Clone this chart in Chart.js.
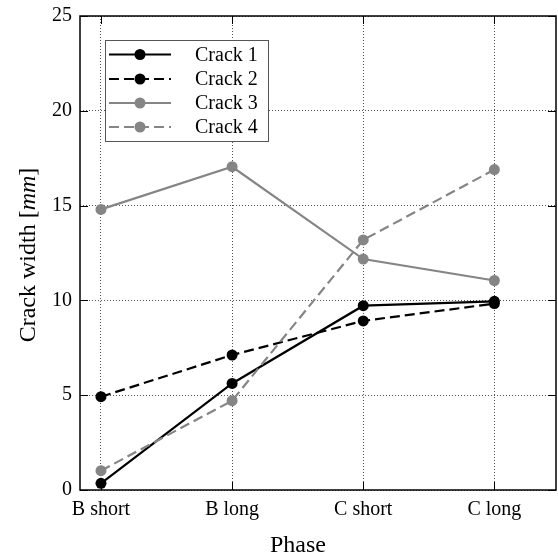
<!DOCTYPE html>
<html>
<head>
<meta charset="utf-8">
<script src="https://cdn.jsdelivr.net/npm/chart.js@4/dist/chart.umd.min.js"></script>
<style>
  html, body { margin: 0; padding: 0; background: #fff; }
  #wrap { width: 558px; height: 559px; }
</style>
</head>
<body>
<div id="wrap"><canvas id="c" width="558" height="559"></canvas></div>
<script>
// Crack widths measured at each loading phase
const phases = ['B short', 'B long', 'C short', 'C long'];
const crack1 = [0.35, 5.62, 9.72, 9.95];
const crack2 = [4.92, 7.12, 8.92, 9.83];
const crack3 = [14.8, 17.05, 12.18, 11.05];
const crack4 = [1.02, 4.71, 13.19, 16.9];
const seriesNames = ['Crack 1', 'Crack 2', 'Crack 3', 'Crack 4'];
const yTicks = [0, 5, 10, 15, 20, 25];

const FONT = '"Liberation Serif", "Times New Roman", serif';
const BLACK = '#000000';
const GREY = '#858585';
const DASH = [10, 5];

const toPoints = arr => arr.map((v, i) => ({ x: i, y: v }));

function series(label, values, color, dashed, order) {
  return {
    label,
    data: toPoints(values),
    borderColor: color,
    backgroundColor: color,
    borderWidth: 2.2,
    borderDash: dashed ? DASH : [],
    pointRadius: 5.5,
    pointBorderWidth: 0,
    pointBackgroundColor: color,
    pointHoverRadius: 5.5,
    tension: 0,
    fill: false,
    order
  };
}

// Frame on top/right, inward tick marks, y title with italic unit, legend box
const decorations = {
  id: 'decorations',
  afterDatasetsDraw(chart) {
    const { ctx, chartArea: a, scales } = chart;
    const TL = 8;
    ctx.save();
    ctx.strokeStyle = '#000';
    ctx.lineWidth = 1.5;
    ctx.setLineDash([]);
    ctx.strokeRect(a.left, a.top, a.right - a.left, a.bottom - a.top);
    ctx.lineWidth = 1;
    ctx.beginPath();
    scales.y.ticks.forEach(t => {
      const y = Math.round(scales.y.getPixelForValue(t.value)) + 0.5;
      ctx.moveTo(a.left, y); ctx.lineTo(a.left + TL, y);
      ctx.moveTo(a.right, y); ctx.lineTo(a.right - TL, y);
    });
    scales.x.ticks.forEach(t => {
      const x = Math.round(scales.x.getPixelForValue(t.value)) + 0.5;
      ctx.moveTo(x, a.bottom); ctx.lineTo(x, a.bottom - TL);
      ctx.moveTo(x, a.top); ctx.lineTo(x, a.top + TL);
    });
    ctx.stroke();
    ctx.restore();
  },
  afterDraw(chart) {
    const { ctx } = chart;
    ctx.save();

    // y axis title: "Crack width [mm]" with the unit in italics
    const parts = [
      { t: 'Crack width [', f: '24px ' + FONT },
      { t: 'mm', f: 'italic 24px ' + FONT },
      { t: ']', f: '24px ' + FONT }
    ];
    let total = 0;
    parts.forEach(p => { ctx.font = p.f; p.w = ctx.measureText(p.t).width; total += p.w; });
    ctx.translate(35, 255);
    ctx.rotate(-Math.PI / 2);
    ctx.fillStyle = '#000';
    ctx.textBaseline = 'alphabetic';
    ctx.textAlign = 'left';
    let x = -total / 2;
    parts.forEach(p => { ctx.font = p.f; ctx.fillText(p.t, x, 0); x += p.w; });
    ctx.setTransform(1, 0, 0, 1, 0, 0);

    // x axis title
    ctx.font = '24px ' + FONT;
    ctx.textAlign = 'center';
    ctx.fillText('Phase', 298, 552);

    // legend box
    const bx = 105, by = 40, bw = 163, bh = 101;
    ctx.fillStyle = '#fff';
    ctx.fillRect(bx, by, bw, bh);
    ctx.strokeStyle = '#555';
    ctx.lineWidth = 1;
    ctx.strokeRect(bx + 0.5, by + 0.5, bw, bh);
    const rows = [54.5, 79, 103, 127];
    chart.data.datasets.forEach((ds, i) => {
      const y = rows[i];
      ctx.strokeStyle = ds.borderColor;
      ctx.lineWidth = ds.borderWidth;
      ctx.setLineDash(ds.borderDash);
      ctx.beginPath();
      ctx.moveTo(109, y); ctx.lineTo(171, y);
      ctx.stroke();
      ctx.setLineDash([]);
      ctx.fillStyle = ds.pointBackgroundColor;
      ctx.beginPath();
      ctx.arc(140, y, ds.pointRadius, 0, Math.PI * 2);
      ctx.fill();
      ctx.fillStyle = '#000';
      ctx.font = '20px ' + FONT;
      ctx.textAlign = 'left';
      ctx.textBaseline = 'middle';
      ctx.fillText(ds.label, 195, y + 1);
    });
    ctx.restore();
  }
};

new Chart(document.getElementById('c'), {
  type: 'line',
  data: {
    datasets: [
      series(seriesNames[0], crack1, BLACK, false, 4),
      series(seriesNames[1], crack2, BLACK, true, 3),
      series(seriesNames[2], crack3, GREY, false, 2),
      series(seriesNames[3], crack4, GREY, true, 1)
    ]
  },
  options: {
    responsive: false,
    animation: false,
    devicePixelRatio: 1,
    layout: { autoPadding: false, padding: { top: 16, right: 2, left: 0, bottom: 0 } },
    plugins: { legend: { display: false }, tooltip: { enabled: false } },
    scales: {
      x: {
        type: 'linear',
        min: -0.16,
        max: 3.47,
        afterBuildTicks: s => { s.ticks = phases.map((_, i) => ({ value: i })); },
        afterFit: s => { s.height = 69; s.paddingLeft = 0; s.paddingRight = 0; },
        ticks: {
          callback: v => phases[v] ?? '',
          color: '#000',
          font: { family: FONT, size: 20 },
          padding: 8,
          maxRotation: 0,
          autoSkip: false
        },
        grid: { color: '#555', lineWidth: 1, drawTicks: false },
        border: { display: false, dash: [1, 2] }
      },
      y: {
        min: 0,
        max: 25,
        afterBuildTicks: s => { s.ticks = yTicks.map(v => ({ value: v })); },
        afterFit: s => { s.width = 80; s.paddingTop = 0; s.paddingBottom = 0; },
        ticks: {
          color: '#000',
          font: { family: FONT, size: 20 },
          padding: 8
        },
        grid: { color: '#555', lineWidth: 1, drawTicks: false },
        border: { display: false, dash: [1, 2] }
      }
    }
  },
  plugins: [decorations]
});
</script>
</body>
</html>
